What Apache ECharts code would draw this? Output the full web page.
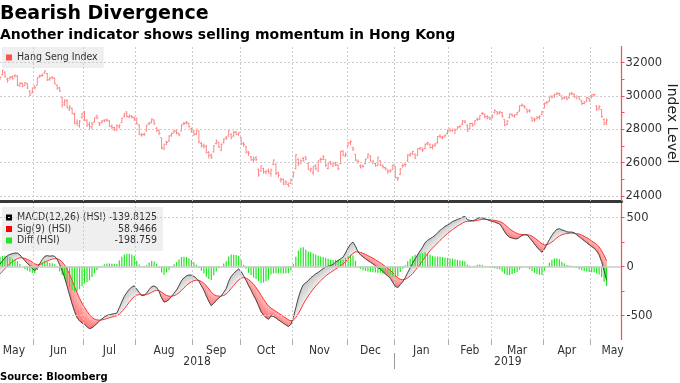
<!DOCTYPE html>
<html><head><meta charset="utf-8">
<script src="https://cdn.jsdelivr.net/npm/echarts@6/dist/echarts.min.js"></script>
<style>html,body{margin:0;padding:0;background:#fff}#c{width:680px;height:383px}</style>
</head><body><div id="c"></div>
<script>
// ---- Hang Seng Index daily bars (trading-day index 0..244, mid-May 2018 .. May 2019)
const hsiOpen = [
31010,31280,31420,31020,31050,31160,31180,31200,30600,30760,30650,30740,30300,30180,
30600,30650,31160,31230,31400,31350,30990,31100,31070,30650,30500,29900,29600,29740,29200,29250,28900,28450,28200,28700,
29000,28550,28300,28150,28450,28800,28400,28400,28550,28600,28500,28200,28100,27950,28150,28400,28800,29050,28750,28800,28700,
28650,28250,27650,27700,27900,28350,28450,28550,28050,27950,27500,26850,27250,27300,27650,27850,27900,27750,27900,28350,28380,28350,28050,
27900,27700,27900,27150,27050,27000,26600,26450,26650,27150,27200,26750,27200,27500,27600,27700,27600,27850,27700,
27500,27150,26950,26650,26350,26150,26300,25600,25500,25650,25450,25550,25350,25900,25900,25400,24950,25000,24850,24700,24750,
25150,25650,26200,26000,26250,26350,25950,25500,25400,25850,25500,26200,26200,26200,25650,26050,25800,26000,25850,25950,26700,26400,
27000,27200,26900,26500,26050,25800,25800,25950,26300,26400,26000,25950,25850,26100,25800,25700,25550,25500,25600,
25800,25100,25300,25800,25900,26100,26450,26550,26500,26450,26850,26800,26850,27150,27100,26900,27050,27200,27600,27500,27600,27750,
28000,27950,27950,28000,28150,28300,28500,28250,28050,28350,28300,28600,28600,28950,28900,28750,28700,
28700,29000,29050,29000,29000,28600,28300,28700,28900,28800,28900,29100,29450,29400,29200,29150,28700,28600,28650,28700,28900,
29300,29600,29700,29950,30000,30100,30150,30000,29900,29950,29900,30150,30100,29900,29950,29700,29550,29700,29850,
29900,30050,29400,29300,29200,28600,28400];
const hsiClose = [
31122,31541,31152,30942,31110,31048,31234,30666,30760,30588,30793,30485,30056,30469,
30492,31093,31200,31260,31512,30958,31063,31103,30725,30440,30309,29468,29696,29296,29338,28961,28356,28357,28497,28955,
28546,28241,28182,28316,28688,28682,28311,28481,28525,28539,28181,28117,28010,28224,28256,28662,28920,28781,28804,28733,28583,
28340,27714,27676,27712,28248,28359,28607,28367,27936,27752,26888,27100,27213,27598,27752,27927,27790,27672,28271,28351,28416,28164,27888,
27712,27973,27243,27014,26973,26613,26422,26345,27014,27286,26933,27084,27407,27477,27953,27499,27816,27715,27788,
27126,27091,26623,26572,26202,26193,26193,25266,25801,25445,25462,25454,25561,26153,25346,25249,24994,24717,24812,24585,24980,
25416,26486,25934,26120,26147,26227,25601,25633,25792,25654,26103,26183,26372,25840,25975,25928,25927,25880,25634,26683,26451,26507,
27182,27261,26820,26156,26063,25752,25772,26186,26525,26094,26087,25814,26325,25865,25753,25651,25478,25504,25845,
25130,25064,25626,25835,25875,26462,26521,26667,26298,26830,26902,26755,27090,27196,26910,27008,27120,27569,27576,27531,27642,27942,
27930,27990,27946,28143,28171,28497,28432,27901,28347,28228,28514,28629,28816,28959,28772,28757,28633,
28812,29130,28959,29037,28779,28228,28503,28920,28807,28851,29012,29409,29466,29320,29071,29113,28523,28567,28728,28775,29051,
29562,29625,29986,29936,30077,30157,30119,29840,29909,29812,30130,30124,29963,29963,29805,29549,29605,29893,29699,
30082,30081,29210,29363,28765,28311,28550];
const hsiHigh = [
31190,31560,31480,31090,31200,31230,31300,31230,30830,30800,30830,30780,30350,30500,
30640,31120,31300,31350,31530,31390,31150,31200,31100,30680,30550,29950,29800,29800,29450,29300,29000,28600,28550,29000,
29100,28600,28450,28450,28720,28880,28450,28560,28600,28650,28550,28300,28150,28300,28300,28700,29000,29080,28900,28850,28780,
28700,28300,27780,27800,28280,28450,28650,28600,28150,28000,27500,27150,27300,27650,27800,27950,27950,27800,28300,28450,28500,28400,28100,
27950,28050,27950,27250,27150,27050,26700,26550,27050,27400,27250,27150,27450,27600,27980,27750,27900,27900,27850,
27550,27250,27000,26700,26400,26350,26400,25650,25850,25700,25550,25650,25650,26200,25950,25450,25100,25050,24950,24800,25050,
25450,26500,26250,26200,26350,26400,26000,25700,25800,25900,26150,26300,26450,26200,26050,26100,25980,26050,25900,26700,26750,26600,
27250,27350,26950,26500,26200,25900,25900,26250,26550,26450,26150,26000,26350,26150,25900,25750,25600,25600,25900,
25800,25150,25680,25950,26000,26500,26600,26700,26550,26850,26950,26900,27150,27250,27150,27100,27200,27600,27700,27600,27700,28000,
28100,28050,28050,28200,28250,28550,28550,28300,28400,28400,28550,28700,28850,29050,28950,28850,28750,
28900,29200,29100,29100,29050,28600,28550,28950,28950,28900,29050,29450,29550,29450,29250,29200,28750,28700,28800,28850,29100,
29600,29700,30000,30050,30150,30250,30200,30050,30000,30000,30200,30250,30150,30050,30000,29750,29700,29950,29900,
30100,30150,29450,29450,29200,28650,28650];
const hsiLow = [
30950,31250,31100,30800,30980,30990,31100,30600,30550,30520,30600,30420,30000,30150,
30400,30640,31080,31150,31330,30900,30920,31000,30700,30380,30250,29300,29400,29250,29100,28900,28300,28200,28100,28650,
28500,28150,27950,28000,28400,28600,28200,28350,28430,28450,28150,28000,27900,27900,28050,28380,28700,28700,28680,28650,28500,
28300,27650,27550,27600,27880,28250,28350,28250,27850,27650,26800,26750,27050,27250,27550,27750,27700,27580,27880,28250,28300,28100,27800,
27600,27650,27150,26900,26850,26550,26250,26220,26600,27100,26900,26700,27150,27350,27550,27400,27550,27650,27600,
27050,26950,26550,26400,26100,26050,26100,25150,25450,25350,25300,25350,25150,25850,25250,25100,24800,24650,24650,24550,24700,
25100,25600,25800,25900,26050,26150,25550,25450,25250,25550,25450,26050,26150,25750,25600,25850,25750,25800,25550,25900,26400,26350,
26950,27050,26700,26100,25950,25650,25700,25900,26250,26050,25900,25750,25800,25800,25650,25550,25300,25400,25550,
25050,24900,25250,25700,25750,26050,26350,26450,26200,26400,26750,26650,26800,27050,26850,26800,26950,27150,27450,27400,27500,27700,
27850,27850,27700,27950,28050,28250,28350,27850,28000,28150,28250,28500,28550,28850,28650,28600,28550,
28650,28950,28850,28900,28700,28200,28250,28650,28750,28700,28850,29050,29350,29250,28950,29000,28450,28450,28600,28600,28850,
29250,29500,29650,29850,29900,30050,30000,29750,29800,29750,29850,30050,29900,29800,29750,29450,29500,29650,29650,
29850,29950,29100,29150,28700,28250,28250];

// ---- MACD panel
const macdLine = [
27,60,90,112,125,133,138,138,120,90,60,35,8,-20,
-40,-15,30,72,105,112,106,110,105,75,20,-40,-110,-200,-290,-380,-460,-520,-555,-575,
-590,-615,-634,-625,-606,-580,-555,-535,-515,-500,-492,-486,-480,-476,-420,-360,-305,-265,-232,-210,-196,
-230,-265,-295,-292,-272,-235,-205,-198,-212,-255,-320,-362,-355,-335,-305,-272,-240,-195,-145,-115,-95,-86,-88,
-100,-120,-150,-195,-240,-300,-355,-400,-375,-348,-320,-300,-262,-225,-150,-100,-70,-45,-25,
-50,-95,-140,-195,-240,-295,-340,-400,-460,-495,-520,-538,-505,-510,-525,-545,-560,-580,-595,-613,-590,
-520,-420,-320,-240,-185,-165,-145,-115,-95,-75,-60,-40,-20,-5,5,10,25,45,62,80,96,140,
190,230,250,210,150,120,100,80,62,45,28,10,-10,-25,-50,-75,-95,-120,-160,
-200,-215,-185,-155,-115,-60,-15,35,80,120,160,199,245,268,285,300,320,345,370,390,410,425,
440,460,470,482,492,505,514,480,472,470,475,490,500,498,488,480,470,
462,455,445,435,400,355,320,300,292,285,284,300,319,325,325,295,265,230,199,170,147,
180,230,275,320,355,380,387,375,368,355,352,353,345,325,305,285,265,245,225,
205,188,160,120,50,-40,-140];
const signalLine = [
-75,-48,-20,6,30,51,68,82,90,90,84,74,61,45,
28,19,21,31,46,59,68,76,82,81,69,47,16,-27,-80,-140,-204,-267,-325,-375,
-418,-457,-492,-519,-536,-545,-547,-545,-539,-531,-523,-516,-509,-502,-486,-461,-430,-397,-364,-333,-306,
-291,-286,-288,-289,-286,-276,-262,-249,-242,-245,-260,-280,-295,-303,-303,-297,-286,-268,-243,-217,-193,-172,-155,
-144,-139,-141,-152,-170,-196,-228,-262,-285,-298,-302,-302,-294,-280,-254,-223,-192,-163,-135,
-118,-113,-118,-133,-154,-182,-214,-251,-293,-333,-370,-404,-424,-441,-458,-475,-492,-510,-527,-544,-553,
-546,-521,-481,-433,-383,-339,-300,-263,-229,-198,-170,-144,-119,-96,-76,-59,-42,-25,-8,10,27,50,
78,108,136,151,151,145,136,125,112,99,85,70,54,38,20,1,-18,-38,-62,
-90,-115,-129,-134,-130,-116,-96,-70,-40,-8,26,61,98,132,163,190,216,242,268,292,316,338,
358,378,396,413,429,444,458,462,464,465,467,472,478,482,483,482,480,
476,472,467,461,449,430,408,386,367,351,338,330,328,327,327,321,310,294,275,254,233,
222,224,234,251,272,294,313,325,334,338,341,343,340,337,332,322,310,296,280,
262,246,228,200,160,115,59];
const diffBars = [
102,108,110,106,95,82,70,56,30,0,-24,-39,-53,-65,
-68,-34,9,41,59,53,38,34,23,-6,-49,-87,-126,-173,-210,-240,-256,-253,-230,-200,
-172,-158,-142,-106,-70,-35,-8,10,24,31,31,30,29,26,66,101,125,132,132,123,110,
61,21,-7,-3,14,41,57,51,30,-10,-60,-82,-60,-32,-2,25,46,73,98,102,98,86,67,
44,19,-9,-43,-70,-104,-127,-138,-90,-50,-18,2,32,55,104,123,122,118,110,
68,18,-22,-62,-86,-113,-126,-149,-167,-162,-150,-134,-81,-69,-67,-70,-68,-70,-68,-69,-37,
26,101,161,193,198,174,155,148,134,123,110,104,99,91,81,69,67,70,70,70,69,90,
112,122,114,59,-1,-25,-36,-45,-50,-54,-57,-60,-64,-63,-70,-76,-77,-82,-98,
-110,-100,-56,-21,15,56,81,105,120,128,134,138,147,136,122,110,104,103,102,98,94,87,
82,82,74,69,63,61,56,18,8,5,8,18,22,16,5,-2,-10,
-14,-17,-22,-26,-49,-75,-88,-86,-75,-66,-54,-30,-9,-2,-2,-26,-45,-64,-76,-84,-86,
-42,6,41,69,83,86,74,50,34,17,11,10,5,-12,-27,-37,-45,-51,-55,
-57,-58,-68,-80,-110,-155,-199];

// ---- axis ticks / labels / grid lines
const monthBounds = [13.5,33.5,54.5,77.5,96.5,117.5,139.5,158.5,180.5,197.5,218.5,237.5];
const monthLabelPos = [5.6,23.5,44,66,87,107,128.5,149,169.5,189,208,228,246.4];
const monthLabels = ['May','Jun','Jul','Aug','Sep','Oct','Nov','Dec','Jan','Feb','Mar','Apr','May'];
const yearBounds = [158.5];
const yearLabelPos = [79.25,204.25];
const yearLabels = ['2018','2019'];
const priceTicks = [24000,25000,26000,27000,28000,29000,30000,31000,32000];
const priceLabels = [24000,26000,28000,30000,32000];
const macdTicks = [-500,-250,0,250,500];
const macdLabels = [-500,0,500];
const macdGrid = [-500,500];
const legendNames = ['MACD(12,26) (HSI)','Sig(9) (HSI)','Diff (HSI)'];
const legendColors = ['#000000','#ff0000','#22e622'];
const legendValues = ['-139.8125','58.9466','-198.759'];

const FONT = '"DejaVu Sans", sans-serif';
const COND = '"DejaVu Sans Condensed", "Liberation Sans Narrow", "DejaVu Sans", sans-serif';
const AXRED = '#ff4d4d';
const GRIDC = '#cdcdcd';
const X_MAX = 250;
const AXIS_X = 249.9;

function pick(arr, pos, v) {
  const k = pos.findIndex(p => Math.abs(p - v) < 0.01);
  return k < 0 ? '' : arr[k];
}
const plain = v => String(v);

const ohlcData = hsiClose.map((c, i) => [i, hsiOpen[i], c, hsiLow[i], hsiHigh[i]]);
const fillData = [];
for (let i = 0; i < macdLine.length - 1; i++) {
  fillData.push([i, macdLine[i], signalLine[i], macdLine[i + 1], signalLine[i + 1]]);
}

const G = echarts.graphic;
const redFill = new G.LinearGradient(0, 0, 0, 1, [{offset: 0, color: '#ffc2c2'}, {offset: 1, color: '#ff7070'}]);
const grayFill = new G.LinearGradient(0, 0, 0, 1, [{offset: 0, color: '#c4c4c4'}, {offset: 1, color: '#f2f2f2'}]);

const gridMarks = (xs, ys, extra) => ({
  silent: true, symbol: ['none', 'none'], label: {show: false}, animation: false,
  lineStyle: {color: GRIDC, type: [2, 2], width: 1},
  emphasis: {disabled: true},
  data: xs.map(v => ({xAxis: v})).concat(ys.map(v => ({yAxis: v}))).concat(extra || [])
});
const axisMark = () => ({
  silent: true, symbol: ['none', 'none'], label: {show: false}, animation: false,
  emphasis: {disabled: true},
  lineStyle: {color: AXRED, type: 'solid', width: 1.2},
  data: [{xAxis: AXIS_X}]
});
const noLine = {width: 0, opacity: 0};

const chart = echarts.init(document.getElementById('c'), null, {renderer: 'canvas'});
const option = {
  animation: false,
  backgroundColor: '#fff',
  textStyle: {fontFamily: FONT},
  title: [
    {text: 'Bearish Divergence', left: 0, top: 5, padding: 0,
     textStyle: {fontFamily: FONT, fontWeight: 'bold', fontSize: 19, color: '#000'}},
    {text: 'Another indicator shows selling momentum in Hong Kong', left: 0, top: 28, padding: 0,
     textStyle: {fontFamily: FONT, fontWeight: 'bold', fontSize: 14, color: '#000'}},
    {text: 'Source: Bloomberg', left: 0, top: 372, padding: 0,
     textStyle: {fontFamily: FONT, fontWeight: 'bold', fontSize: 10, color: '#000'}}
  ],
  legend: [
    {data: [{name: 'Hang Seng Index', itemStyle: {color: '#ff5050', borderWidth: 0}, lineStyle: noLine}],
     left: 2, top: 47, padding: [5, 6, 5, 4], backgroundColor: '#efefef',
     icon: 'rect', itemWidth: 6, itemHeight: 6, selectedMode: false,
     textStyle: {fontFamily: COND, fontSize: 10.5, color: '#333', lineHeight: 11}},
    {data: legendNames.map((n, k) => ({name: n, itemStyle: {color: legendColors[k], borderWidth: 0}, lineStyle: noLine})),
     orient: 'vertical', left: 2, top: 207, padding: [5, 6, 5, 4], itemGap: 0.5,
     backgroundColor: '#efefef', icon: 'rect', itemWidth: 6, itemHeight: 6, selectedMode: false,
     formatter: name => '{n|' + name + '}{v|' + legendValues[legendNames.indexOf(name)] + '}',
     textStyle: {fontFamily: COND, fontSize: 10.5, color: '#333', lineHeight: 11,
       rich: {n: {width: 92, fontFamily: COND, fontSize: 10.5, color: '#333', lineHeight: 11},
              v: {width: 48, align: 'right', fontFamily: COND, fontSize: 10.5, color: '#333', lineHeight: 11}}}}
  ],
  grid: [
    {left: 0, right: 58.5, top: 46, height: 155, containLabel: false, outerBoundsMode: 'none'},
    {left: 0, right: 58.5, top: 203, height: 137, containLabel: false, outerBoundsMode: 'none'},
    {left: 0, right: 58.5, top: 352, height: 1, containLabel: false, outerBoundsMode: 'none'}
  ],
  xAxis: [
    {type: 'value', gridIndex: 0, min: 0, max: X_MAX, position: 'bottom',
     axisLine: {show: true, onZero: false, lineStyle: {color: '#383838', width: 3}},
     axisTick: {show: false}, axisLabel: {show: false}, splitLine: {show: false}},
    {type: 'value', gridIndex: 1, min: 0, max: X_MAX, position: 'bottom',
     axisLine: {show: false, onZero: false},
     axisTick: {show: true, customValues: monthBounds, length: 5, lineStyle: {color: '#aaa'}},
     axisLabel: {show: true, customValues: monthLabelPos, margin: 5, fontFamily: COND, fontSize: 12, color: '#333',
                 formatter: v => pick(monthLabels, monthLabelPos, v)},
     splitLine: {show: false}},
    {type: 'value', gridIndex: 2, min: 0, max: X_MAX, position: 'bottom',
     axisLine: {show: false, onZero: false},
     axisTick: {show: true, customValues: yearBounds, length: 16, lineStyle: {color: '#999'}},
     axisLabel: {show: true, customValues: yearLabelPos, margin: 3, fontFamily: COND, fontSize: 12, color: '#333',
                 formatter: v => pick(yearLabels, yearLabelPos, v)},
     splitLine: {show: false}}
  ],
  yAxis: [
    {type: 'value', gridIndex: 0, position: 'right', min: 23700, max: 33000,
     axisLine: {show: false, onZero: false},
     axisTick: {show: true, customValues: priceTicks, length: 3, lineStyle: {color: AXRED}},
     axisLabel: {show: true, customValues: priceLabels, margin: 4, fontFamily: FONT, fontSize: 11.5, color: '#333',
                 formatter: plain},
     splitLine: {show: false},
     name: 'Index Level', nameLocation: 'middle', nameRotate: -90, nameGap: 43, nameMoveOverlap: false,
     nameTextStyle: {fontFamily: FONT, fontSize: 14, color: '#222', lineHeight: 14}},
    {type: 'value', gridIndex: 1, position: 'right', min: -750, max: 650,
     axisLine: {show: false, onZero: false},
     axisTick: {show: true, customValues: macdTicks, length: 3, lineStyle: {color: AXRED}},
     axisLabel: {show: true, customValues: macdLabels, margin: 5, fontFamily: FONT, fontSize: 11.5, color: '#333',
                 formatter: plain},
     splitLine: {show: false}},
    {type: 'value', gridIndex: 2, show: false, min: 0, max: 1, axisLine: {onZero: false}}
  ],
  series: [
    {name: 'gridTop', type: 'line', xAxisIndex: 0, yAxisIndex: 0, z: 0, silent: true, symbol: 'none',
     data: [[-10, 28000]], lineStyle: {width: 0}, markLine: gridMarks(monthBounds, priceLabels)},
    {name: 'gridBottom', type: 'line', xAxisIndex: 1, yAxisIndex: 1, z: 0, silent: true, symbol: 'none',
     data: [[-10, 0]], lineStyle: {width: 0},
     markLine: gridMarks(monthBounds, macdGrid,
       [{yAxis: 0, lineStyle: {color: '#c8c8c8', type: 'solid', width: 1.5}}])},
    {name: 'axisTop', type: 'line', xAxisIndex: 0, yAxisIndex: 0, z: 10, silent: true, symbol: 'none',
     data: [[-10, 28000]], lineStyle: {width: 0}, markLine: axisMark()},
    {name: 'axisBottom', type: 'line', xAxisIndex: 1, yAxisIndex: 1, z: 10, silent: true, symbol: 'none',
     data: [[-10, 0]], lineStyle: {width: 0}, markLine: axisMark()},
    {name: 'Hang Seng Index', type: 'custom', xAxisIndex: 0, yAxisIndex: 0, clip: true,
     itemStyle: {color: '#ff5050'}, encode: {x: 0, y: [1, 2, 3, 4]}, data: ohlcData, z: 3,
     renderItem: (params, api) => {
       const i = api.value(0);
       const pO = api.coord([i, api.value(1)]);
       const pC = api.coord([i, api.value(2)]);
       const pL = api.coord([i, api.value(3)]);
       const pH = api.coord([i, api.value(4)]);
       const st = {stroke: '#ff8585', lineWidth: 1};
       return {type: 'group', children: [
         {type: 'line', shape: {x1: pH[0], y1: pH[1], x2: pL[0], y2: pL[1]}, style: st},
         {type: 'line', shape: {x1: pO[0] - 1.3, y1: pO[1], x2: pO[0], y2: pO[1]}, style: st},
         {type: 'line', shape: {x1: pC[0], y1: pC[1], x2: pC[0] + 1.3, y2: pC[1]}, style: st}
       ]};
     }},
    {name: 'band', type: 'custom', xAxisIndex: 1, yAxisIndex: 1, clip: true, silent: true, z: 1,
     encode: {x: 0, y: [1, 2, 3, 4]}, data: fillData,
     renderItem: (params, api) => {
       const i0 = api.value(0), m0 = api.value(1), s0 = api.value(2), m1 = api.value(3), s1 = api.value(4);
       const i1 = i0 + 1, d0 = m0 - s0, d1 = m1 - s1;
       const P = (x, y) => api.coord([x, y]);
       const polys = [];
       if (d0 * d1 >= 0) {
         polys.push({pts: [P(i0, m0), P(i1, m1), P(i1, s1), P(i0, s0)], up: (d0 + d1) >= 0});
       } else {
         const t = d0 / (d0 - d1);
         const xc = i0 + t, yc = m0 + t * (m1 - m0);
         polys.push({pts: [P(i0, m0), P(xc, yc), P(i0, s0)], up: d0 > 0});
         polys.push({pts: [P(xc, yc), P(i1, m1), P(i1, s1)], up: d1 > 0});
       }
       return {type: 'group', children: polys.map(p => ({
         type: 'polygon', shape: {points: p.pts},
         style: {fill: p.up ? grayFill : redFill, stroke: p.up ? grayFill : redFill, lineWidth: 0.6}
       }))};
     }},
    {name: 'Diff (HSI)', type: 'bar', xAxisIndex: 1, yAxisIndex: 1, barWidth: 1.2, z: 2,
     itemStyle: {color: '#22e622'}, data: diffBars.map((v, i) => [i, v])},
    {name: 'Sig(9) (HSI)', type: 'line', xAxisIndex: 1, yAxisIndex: 1, symbol: 'none', showSymbol: false, z: 3,
     itemStyle: {color: '#ff0000'}, lineStyle: {color: '#ff3535', width: 1}, data: signalLine.map((v, i) => [i, v])},
    {name: 'MACD(12,26) (HSI)', type: 'line', xAxisIndex: 1, yAxisIndex: 1, symbol: 'none', showSymbol: false, z: 4,
     itemStyle: {color: '#000000'}, lineStyle: {color: '#4a4a4a', width: 1}, data: macdLine.map((v, i) => [i, v])}
  ]
};
chart.setOption(option);
</script>
</body></html>
